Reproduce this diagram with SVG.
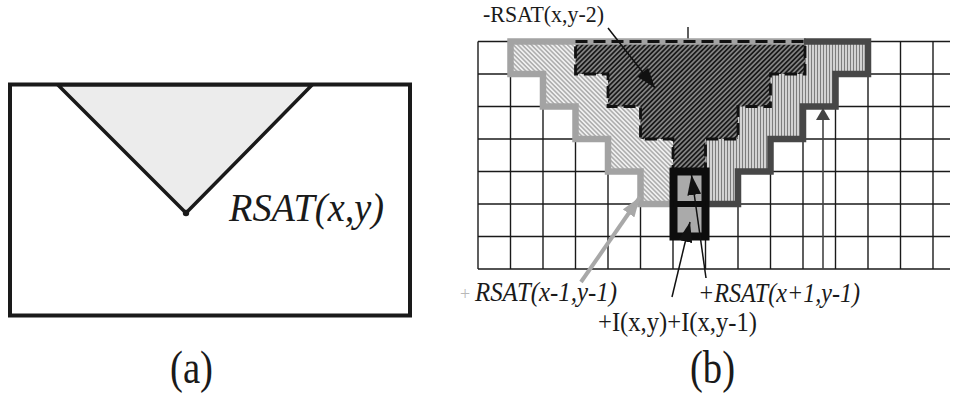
<svg xmlns="http://www.w3.org/2000/svg" width="958" height="394" viewBox="0 0 958 394">
<style>
text{font-family:'Liberation Serif','Times New Roman',Times,serif;fill:#1a1a1a}
.it{font-style:italic}
.grid line{stroke:#1a1a1a;stroke-width:1.4}
.conn{fill:none}
</style>
<defs>
<pattern id="lightHatch" patternUnits="userSpaceOnUse" width="3.2" height="3.2" patternTransform="rotate(-45)">
<rect width="3.2" height="3.2" fill="#f0f0f0"/>
<line x1="1.6" y1="0" x2="1.6" y2="3.2" stroke="#a0a0a0" stroke-width="1.3"/>
</pattern>
<pattern id="darkHatch" patternUnits="userSpaceOnUse" width="3.4" height="3.4" patternTransform="rotate(45)">
<rect width="3.4" height="3.4" fill="#888888"/>
<line x1="1.7" y1="0" x2="1.7" y2="3.4" stroke="#1a1a1a" stroke-width="1.8"/>
</pattern>
<pattern id="vertHatch" patternUnits="userSpaceOnUse" width="3" height="3">
<rect width="3" height="3" fill="#e2e2e2"/>
<line x1="1.5" y1="0" x2="1.5" y2="3" stroke="#7c7c7c" stroke-width="1.3"/>
</pattern>
<marker id="ahBlack" viewBox="0 0 20 14" refX="20" refY="7" markerUnits="userSpaceOnUse" markerWidth="20" markerHeight="14" orient="auto">
<path d="M0,0 L20,7 L0,14 Z" fill="#111"/>
</marker>
<marker id="ahGray" viewBox="0 0 20 14" refX="20" refY="7" markerUnits="userSpaceOnUse" markerWidth="20" markerHeight="14" orient="auto">
<path d="M0,0 L20,7 L0,14 Z" fill="#a8a8a8"/>
</marker>
<marker id="ahDark" viewBox="0 0 12 14" refX="12" refY="7" markerUnits="userSpaceOnUse" markerWidth="12" markerHeight="14" orient="auto">
<path d="M0,0 L12,7 L0,14 Z" fill="#444"/>
</marker>
</defs>
<rect width="958" height="394" fill="#ffffff"/>

<!-- Panel (a) -->
<g id="panel-a">
<rect x="10" y="84.5" width="400" height="231" fill="#ffffff" stroke="#1a1a1a" stroke-width="4"/>
<polygon points="58,85 312,85 186,213" fill="#ececec" stroke="#1a1a1a" stroke-width="3.5" stroke-linejoin="round"/>
<circle cx="186" cy="213" r="3.2" fill="#1a1a1a"/>
<text class="it" x="229" y="221" font-size="40" textLength="155" lengthAdjust="spacingAndGlyphs">RSAT(x,y)</text>
</g>

<!-- Panel (b) grid -->
<g id="grid" class="grid">
<line x1="478" y1="41.5" x2="950" y2="41.5"/>
<line x1="478" y1="74" x2="950" y2="74"/>
<line x1="478" y1="106.5" x2="950" y2="106.5"/>
<line x1="478" y1="139" x2="950" y2="139"/>
<line x1="478" y1="171.5" x2="950" y2="171.5"/>
<line x1="478" y1="204" x2="950" y2="204"/>
<line x1="478" y1="236.5" x2="950" y2="236.5"/>
<line x1="478" y1="269" x2="950" y2="269"/>
<line x1="478" y1="41.5" x2="478" y2="269"/>
<line x1="510.5" y1="41.5" x2="510.5" y2="269"/>
<line x1="543" y1="41.5" x2="543" y2="269"/>
<line x1="575.5" y1="41.5" x2="575.5" y2="269"/>
<line x1="608" y1="41.5" x2="608" y2="269"/>
<line x1="640.5" y1="41.5" x2="640.5" y2="269"/>
<line x1="673" y1="41.5" x2="673" y2="269"/>
<line x1="705.5" y1="41.5" x2="705.5" y2="269"/>
<line x1="738" y1="41.5" x2="738" y2="269"/>
<line x1="770.5" y1="41.5" x2="770.5" y2="269"/>
<line x1="803" y1="41.5" x2="803" y2="269"/>
<line x1="835.5" y1="41.5" x2="835.5" y2="269"/>
<line x1="868" y1="41.5" x2="868" y2="269"/>
<line x1="900.5" y1="41.5" x2="900.5" y2="269"/>
<line x1="933" y1="41.5" x2="933" y2="269"/>
<line x1="688" y1="27" x2="688" y2="41.5"/>
</g>

<!-- RSAT(x-1,y-1) region -->
<g id="rsat-left">
<polygon points="510.5,41.5 803,41.5 803,74 770.5,74 770.5,106.5 738,106.5 738,139 705.5,139 705.5,171.5 673,171.5 673,204 640.5,204 640.5,171.5 608,171.5 608,139 575.5,139 575.5,106.5 543,106.5 543,74 510.5,74" fill="url(#lightHatch)"/>
</g>
<!-- RSAT(x+1,y-1) region -->
<g id="rsat-right">
<polygon points="575.5,41.5 868,41.5 868,74 835.5,74 835.5,106.5 803,106.5 803,139 770.5,139 770.5,171.5 738,171.5 738,204 705.5,204 705.5,171.5 673,171.5 673,139 640.5,139 640.5,106.5 608,106.5 608,74 575.5,74" fill="url(#vertHatch)"/>
</g>
<!-- RSAT(x,y-2) region -->
<g id="rsat-top">
<polygon points="575.5,41.5 805,41.5 805,74 770.5,74 770.5,106.5 738,106.5 738,139 705.5,139 705.5,171.5 673,171.5 673,139 640.5,139 640.5,106.5 608,106.5 608,74 575.5,74" fill="url(#darkHatch)"/>
</g>
<!-- borders -->
<g id="borders" fill="none" stroke-linejoin="miter">
<polyline points="673,204 640.5,204 640.5,171.5 608,171.5 608,139 575.5,139 575.5,106.5 543,106.5 543,74 510.5,74 510.5,41.5 806,41.5" stroke="#a3a3a3" stroke-width="6.5"/>
<polyline points="804,41.5 868,41.5 868,74 835.5,74 835.5,106.5 803,106.5 803,139 770.5,139 770.5,171.5 738,171.5 738,204 705.5,204" stroke="#474747" stroke-width="6.5"/>
<polygon points="575.5,41.5 805,41.5 805,74 770.5,74 770.5,106.5 738,106.5 738,139 705.5,139 705.5,171.5 673,171.5 673,139 640.5,139 640.5,106.5 608,106.5 608,74 575.5,74" stroke="#111" stroke-width="2.8" stroke-dasharray="12,6"/>
</g>
<!-- I(x,y) + I(x,y-1) box -->
<g id="pixel-box">
<rect x="673.5" y="171.5" width="32" height="65" fill="#aaaaaa" stroke="#0d0d0d" stroke-width="8"/>
<line x1="673.5" y1="204" x2="705.5" y2="204" stroke="#0d0d0d" stroke-width="6"/>
</g>

<!-- connectors -->
<g id="connectors" class="conn">
<line x1="608" y1="28" x2="655" y2="88" stroke="#111" stroke-width="1.5" marker-end="url(#ahBlack)"/>
<line x1="581" y1="282" x2="640" y2="197" stroke="#a8a8a8" stroke-width="4" marker-end="url(#ahGray)"/>
<line x1="672" y1="297" x2="690" y2="222" stroke="#111" stroke-width="1.5" marker-end="url(#ahBlack)"/>
<line x1="706" y1="278" x2="691.5" y2="175" stroke="#111" stroke-width="1.5" marker-end="url(#ahBlack)"/>
<line x1="823" y1="269" x2="823" y2="108" stroke="#444" stroke-width="1.6" marker-end="url(#ahDark)"/>
</g>

<!-- labels -->
<g id="labels">
<text x="483" y="22" font-size="24" textLength="121" lengthAdjust="spacingAndGlyphs">-RSAT(x,y-2)</text>
<text x="460" y="300" font-size="18" style="fill:#b8b8b8">+</text>
<text class="it" x="475" y="301" font-size="28" textLength="142" lengthAdjust="spacingAndGlyphs">RSAT(x-1,y-1)</text>
<text class="it" x="698" y="302" font-size="28" textLength="162" lengthAdjust="spacingAndGlyphs">+RSAT(x+1,y-1)</text>
<text x="598" y="331" font-size="28" textLength="159" lengthAdjust="spacingAndGlyphs">+I(x,y)+I(x,y-1)</text>
<text x="170" y="383" font-size="47" textLength="43" lengthAdjust="spacingAndGlyphs">(a)</text>
<text x="690" y="383" font-size="47" textLength="45" lengthAdjust="spacingAndGlyphs">(b)</text>
</g>
</svg>
